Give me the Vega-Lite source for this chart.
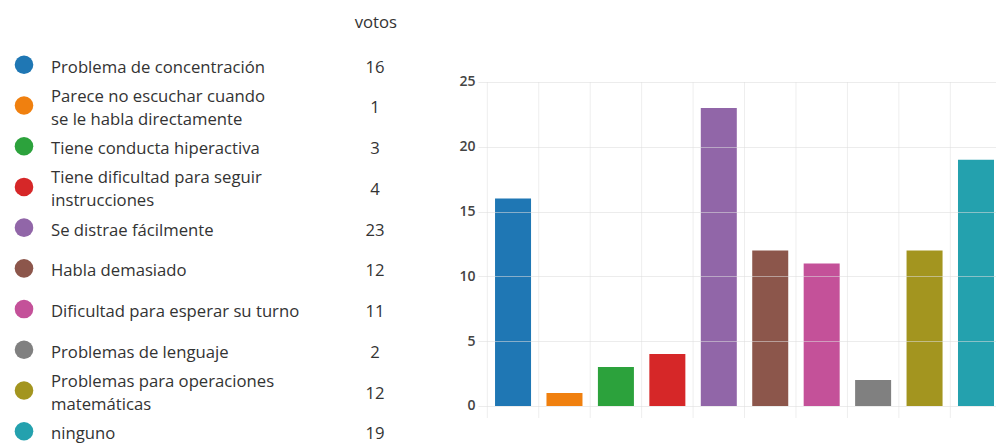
{
  "$schema": "https://vega.github.io/schema/vega-lite/v6.json",
  "background": "white",
  "padding": {"left": 0, "top": 14, "right": 0, "bottom": 0},
  "config": {"view": {"stroke": null}, "font": "Open Sans"},
  "datasets": {
    "votos": [
      {"categoria": "Problema de concentración", "votos": 16},
      {"categoria": "Parece no escuchar cuando\nse le habla directamente", "votos": 1},
      {"categoria": "Tiene conducta hiperactiva", "votos": 3},
      {"categoria": "Tiene dificultad para seguir\ninstrucciones", "votos": 4},
      {"categoria": "Se distrae fácilmente", "votos": 23},
      {"categoria": "Habla demasiado", "votos": 12},
      {"categoria": "Dificultad para esperar su turno", "votos": 11},
      {"categoria": "Problemas de lenguaje", "votos": 2},
      {"categoria": "Problemas para operaciones\nmatemáticas", "votos": 12},
      {"categoria": "ninguno", "votos": 19}
    ]
  },
  "spacing": 58,
  "hconcat": [
    {
      "width": 400,
      "height": 378,
      "title": {"text": "votos", "anchor": "end", "fontSize": 16.7, "fontWeight": "normal", "color": "#333333", "offset": 24, "dx": -3},
      "data": {"name": "votos"},
      "encoding": {
        "y": {"field": "categoria", "type": "nominal", "sort": null, "scale": {"type": "point", "padding": 0.142}, "axis": null}
      },
      "layer": [
        {
          "mark": {"type": "circle", "size": 346, "opacity": 1, "yOffset": -3},
          "encoding": {
            "x": {"value": 24},
            "color": {
              "field": "categoria", "type": "nominal", "sort": null, "legend": null,
              "scale": {"range": ["#1f77b4", "#f0800f", "#2ca23c", "#d62728", "#9166a8", "#8c564b", "#c45199", "#808080", "#a3951f", "#24a1ae"]}
            }
          }
        },
        {
          "transform": [{"filter": "indexof(datum.categoria, '\\n') < 0"}],
          "mark": {"type": "text", "align": "left", "baseline": "middle", "fontSize": 16.7, "color": "#333333"},
          "encoding": {"x": {"value": 51}, "text": {"field": "categoria"}}
        },
        {
          "transform": [{"filter": "indexof(datum.categoria, '\\n') >= 0"}],
          "mark": {"type": "text", "align": "left", "baseline": "middle", "lineBreak": "\n", "fontSize": 16.7, "lineHeight": 23, "dy": -11.5, "color": "#333333"},
          "encoding": {"x": {"value": 51}, "text": {"field": "categoria"}}
        },
        {
          "mark": {"type": "text", "align": "center", "baseline": "middle", "fontSize": 16.7, "color": "#333333"},
          "encoding": {"x": {"value": 375}, "text": {"field": "votos", "type": "quantitative"}}
        }
      ]
    },
    {
      "width": 518,
      "height": 356,
      "data": {"name": "votos"},
      "layer": [
        {
          "mark": {"type": "rule", "color": "#eeeeee", "strokeWidth": 1},
          "encoding": {
            "x": {"field": "categoria", "type": "nominal", "sort": null, "bandPosition": -0.214,
                  "scale": {"paddingInner": 0.3, "paddingOuter": 0.185, "align": 0.895}, "axis": null},
            "y": {"datum": 25, "type": "quantitative"},
            "y2": {"datum": -0.93}
          }
        },
        {
          "mark": {"type": "bar"},
          "encoding": {
            "x": {"field": "categoria", "type": "nominal", "sort": null, "axis": null},
            "y": {
              "field": "votos", "type": "quantitative",
              "scale": {"domain": [-0.93, 26.54], "nice": false, "zero": false},
              "axis": {
                "values": [0, 5, 10, 15, 20, 25], "title": null, "grid": true,
                "gridColor": "#dddddd", "gridOpacity": 0.55, "domain": false, "ticks": false,
                "labelPadding": 3, "labelFontSize": 14, "labelColor": "#444444", "labelFontWeight": 600, "zindex": 1
              }
            },
            "color": {"field": "categoria", "type": "nominal", "sort": null, "legend": null}
          }
        }
      ]
    }
  ]
}
